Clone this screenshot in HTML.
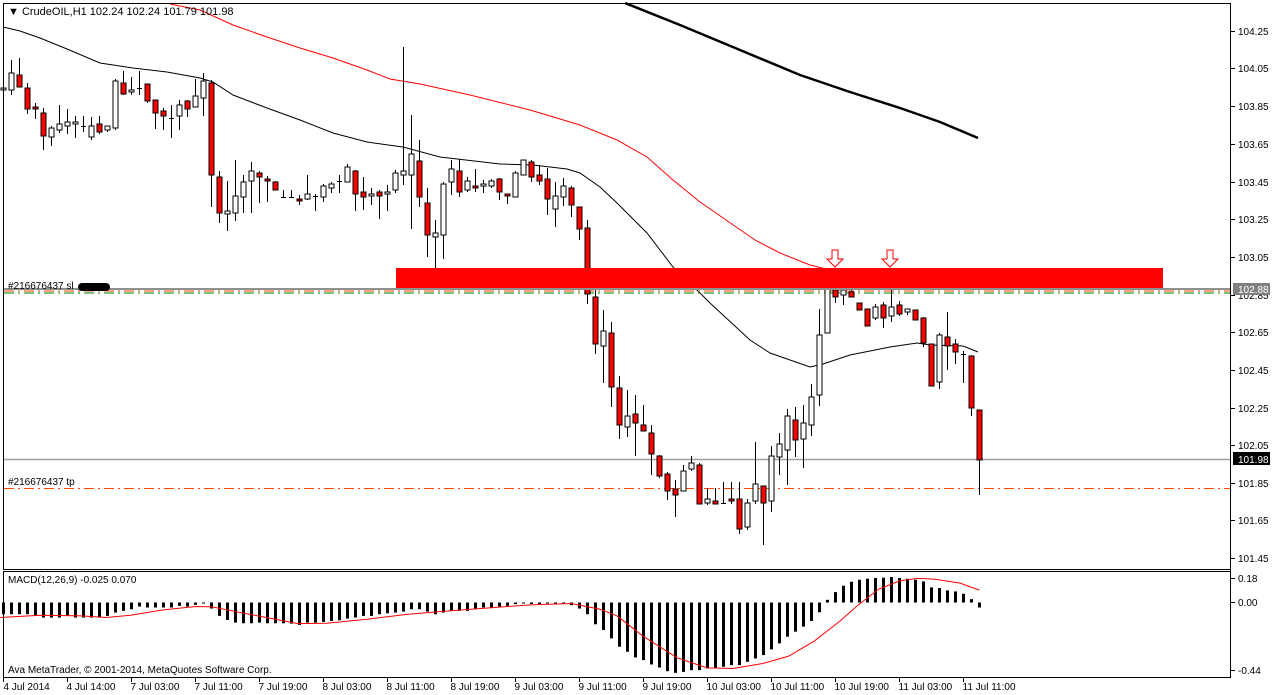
<!DOCTYPE html>
<html><head><meta charset="utf-8">
<style>
html,body{margin:0;padding:0;background:#fff;}
svg{display:block;font-family:"Liberation Sans",sans-serif;}
</style></head>
<body>
<svg id="s" width="1272" height="695" viewBox="0 0 1272 695" xmlns="http://www.w3.org/2000/svg">
<rect width="1272" height="695" fill="#fff"/>
<g id="g"></g>
<!-- frames -->
<rect x="3.5" y="3.5" width="1227" height="566" fill="none" stroke="#000"/>
<rect x="3.5" y="571.5" width="1227" height="106" fill="none" stroke="#000"/>
<line x1="1230.5" y1="3" x2="1230.5" y2="678" stroke="#000"/>
<text x="8" y="15" font-size="11">▼ CrudeOIL,H1  102.24 102.24 101.79 101.98</text>
<text x="8" y="583" font-size="10">MACD(12,26,9) -0.025 0.070</text>
<text x="8" y="673" font-size="10">Ava MetaTrader, © 2001-2014, MetaQuotes Software Corp.</text>
</svg>
<script>
var NS="http://www.w3.org/2000/svg",g=document.getElementById('g');
function el(t,a,txt){var e=document.createElementNS(NS,t);for(var k in a)e.setAttribute(k,a[k]);if(txt!=null)e.textContent=txt;g.appendChild(e);return e;}
function pl(pts,st,w){el('polyline',{points:pts.map(function(p){return p.join(',')}).join(' '),fill:'none',stroke:st,'stroke-width':w});}
// MAs
pl([[3,27],[20,31],[40,38],[67,49],[100,63],[133,68],[167,72],[200,78],[213,82],[233,95],[267,108],[300,120],[333,133],[367,142],[403,147],[440,157],[500,164],[533,165],[567,169],[580,173],[600,187],[617,203],[647,233],[673,267],[700,293],[710,303],[750,340],[770,353],[810,367],[823,364],[850,355],[890,347],[917,343],[930,345],[963,346],[978,352]],'#000',1);
pl([[170,4],[200,10],[233,25],[267,37],[300,48],[333,58],[367,70],[390,79],[420,84],[470,95],[530,110],[580,125],[617,140],[647,157],[673,180],[700,202],[755,240],[780,253],[810,265],[830,270],[900,280],[977,289]],'#f00',1);
pl([[625,3],[680,25],[740,50],[800,75],[850,92],[900,108],[940,122],[978,138]],'#000',2.5);
// lines
el('line',{x1:4,y1:459.5,x2:1230,y2:459.5,stroke:'#a0a0a0','stroke-width':1.5});
el('line',{x1:4,y1:291,x2:1230,y2:291,stroke:'#ff4500','stroke-width':1,'stroke-dasharray':'10,4,2,4'});
el('line',{x1:4,y1:293,x2:1230,y2:293,stroke:'#008000','stroke-width':1,'stroke-dasharray':'10,4,2,4'});
el('line',{x1:4,y1:488.5,x2:1230,y2:488.5,stroke:'#ff4500','stroke-width':1,'stroke-dasharray':'10,4,2,4'});
// candles [o,c,h,l]
var C=[[90,88,85,97],[90,73,60,95],[75,87,58,87],[88,109,83,114],[107,109,103,119],[113,136,108,150],[137,128,126,146],[130,124,105,133],[126,122,109,134],[124,122,116,138],[126,126,116,132],[137,126,117,140],[124,132,116,134],[130,126,126,132],[128,81,79,130],[83,94,71,95],[92,90,77,95],[88,88,71,95],[84,101,84,103],[100,113,100,129],[111,116,108,130],[118,118,105,138],[116,105,100,130],[101,109,100,117],[107,96,79,107],[98,81,73,116],[83,175,80,207],[177,213,171,223],[214,211,181,231],[213,196,160,221],[197,182,175,213],[181,171,162,213],[173,177,171,203],[179,181,176,202],[182,190,181,190],[197,197,190,197],[197,197,190,197],[199,201,195,205],[199,194,175,200],[196,196,194,211],[197,186,184,202],[188,184,182,193],[181,181,175,193],[182,167,164,182],[171,194,170,211],[192,197,177,210],[196,194,188,205],[192,196,190,219],[194,192,185,211],[190,173,170,193],[175,171,47,185],[175,154,115,229],[161,197,140,207],[203,235,188,257],[237,233,220,268],[235,184,182,259],[182,169,160,195],[171,192,159,197],[190,181,177,192],[186,188,169,192],[186,184,180,193],[186,181,179,188],[179,192,178,200],[194,196,194,204],[197,173,171,197],[175,160,160,175],[162,177,160,182],[175,181,165,185],[179,199,168,215],[209,196,182,227],[197,186,178,206],[188,205,186,217],[207,229,207,240],[228,294,220,304],[297,344,288,354],[346,331,310,383],[333,387,322,407],[388,425,376,439],[427,416,390,437],[414,423,395,456],[425,431,405,431],[433,454,425,475],[456,476,455,478],[474,491,472,500],[489,495,480,517],[491,471,465,491],[469,463,456,471],[465,504,463,504],[503,499,488,505],[501,504,488,504],[503,503,482,504],[499,501,482,504],[499,529,482,534],[527,503,499,530],[501,484,442,504],[486,503,486,545],[501,456,446,512],[457,444,433,475],[450,416,409,485],[420,440,407,457],[439,423,405,468],[425,397,384,436],[395,335,309,406],[333,288,271,333],[290,297,271,303],[295,290,286,305],[292,297,288,297],[303,310,303,310],[309,326,309,326],[318,307,304,320],[305,318,302,328],[316,307,290,322],[305,314,301,316],[312,309,309,315],[310,320,310,320],[318,343,317,347],[344,386,344,386],[382,335,333,389],[337,346,312,370],[344,352,339,364],[354,354,351,383],[356,408,355,416],[410,460,410,495]];
C.forEach(function(c,i){var x=3+8*i+0.5,o=c[0],cl=c[1],h=c[2],l=c[3];
 el('line',{x1:x,y1:h,x2:x,y2:l,stroke:'#000','stroke-width':1});
 var t=Math.min(o,cl),b=Math.max(o,cl);
 if(b-t<1){el('line',{x1:x-2.5,y1:t+.5,x2:x+2.5,y2:t+.5,stroke:'#000'});}
 else el('rect',{x:x-2.5,y:t,width:5,height:b-t,fill:cl>o?'#f00':'#fff',stroke:'#000','stroke-width':1});
});
// red zone
el('rect',{x:396,y:268,width:767,height:20,fill:'#f00'});
el('line',{x1:4,y1:289,x2:1230,y2:289,stroke:'#909090','stroke-width':2});
// arrows
[835,890].forEach(function(x){el('path',{d:'M'+(x-3)+' 250 h6 v9 h5 l-8 8 l-8 -8 h5 z',fill:'#fff',stroke:'#f00','stroke-width':1});});
el('text',{x:8,y:289,'font-size':10},'#216676437 sl');
el('rect',{x:78,y:283,width:32,height:8,rx:4,fill:'#000'});
el('text',{x:8,y:485,'font-size':10},'#216676437 tp');
// axis labels
var P=[['104.25',31],['104.05',68],['103.85',106],['103.65',144],['103.45',182],['103.25',219],['103.05',257],['102.85',295],['102.65',332],['102.45',370],['102.25',408],['102.05',445],['101.85',483],['101.65',520],['101.45',558]];
P.forEach(function(p){el('line',{x1:1231,y1:p[1]+.5,x2:1235,y2:p[1]+.5,stroke:'#000'});el('text',{x:1238,y:p[1]+4,'font-size':10},p[0]);});
el('rect',{x:1233,y:283,width:37,height:12,fill:'#808080'});
el('text',{x:1238,y:293,'font-size':10,fill:'#fff'},'102.88');
el('rect',{x:1233,y:452,width:37,height:13,fill:'#000'});
el('text',{x:1238,y:463,'font-size':10,fill:'#fff'},'101.98');
[['0.18',578],['0.00',602],['-0.44',670]].forEach(function(p){el('line',{x1:1231,y1:p[1]+.5,x2:1235,y2:p[1]+.5,stroke:'#000'});el('text',{x:1238,y:p[1]+4,'font-size':10},p[0]);});
// time axis
var T=['4 Jul 2014','4 Jul 14:00','7 Jul 03:00','7 Jul 11:00','7 Jul 19:00','8 Jul 03:00','8 Jul 11:00','8 Jul 19:00','9 Jul 03:00','9 Jul 11:00','9 Jul 19:00','10 Jul 03:00','10 Jul 11:00','10 Jul 19:00','11 Jul 03:00','11 Jul 11:00'];
T.forEach(function(t,i){var x=3+64*i+.5;el('line',{x1:x,y1:678,x2:x,y2:682,stroke:'#000'});el('text',{x:x+(i?-1:0),y:690,'font-size':10},t);});
// MACD hist
var Z1=[165,165,165,165,170,175,175,175,170,175,175,175,175,170,160,155,150,142,145,145,145,145,140,142,137,133,148,170,182,190,192,192,190,192,192,192,193,197,190,190,188,185,183,178,175,170,170,165,162,160,157,150,150,157,165,160,155,155,155,150,145,145,142,140,135,133,132,132,133,133,133,138,148,165,195];
var Z2=[210,235,260,275,292,300,313,322,333,338,335,330,330,325,323,320,315,315,305,295,285,268,250,230,215,200,183,157,120,97,78,66,60,57,55,54,52,55,57,60,65,83,85,92,95,102,118,143];
var H=Z1.map(function(z){return (z-130)*0.335;}).concat(Z2.map(function(z){return (z-128)*0.335;}));
H.forEach(function(h,i){var x=3+8*i-1;if(Math.abs(h)<1)h=h<0?-1.5:1.5;el('rect',{x:x,y:h>0?602.5:602.5+h,width:3,height:Math.abs(h),fill:'#000'});});
var S1=[[0,175],[100,168],[200,170],[260,175],[320,168],[400,152],[480,142],[520,143],[560,153],[640,172],[730,193],[800,192],[900,180],[1000,165],[1100,155],[1200,146],[1300,137],[1400,133]].map(function(p){return [p[0]/2.45,559+p[1]*0.3346];});
var S2=[[0,150],[40,170],[100,230],[180,295],[250,325],[310,327],[380,312],[440,290],[500,245],[560,185],[600,140],[650,90],[700,65],[740,58],[780,60],[840,72],[885,93]].map(function(p){return [600+p[0]/2.333,559+p[1]*0.335];});
pl(S1.concat(S2),'#f00',1);
</script>
</body></html>
